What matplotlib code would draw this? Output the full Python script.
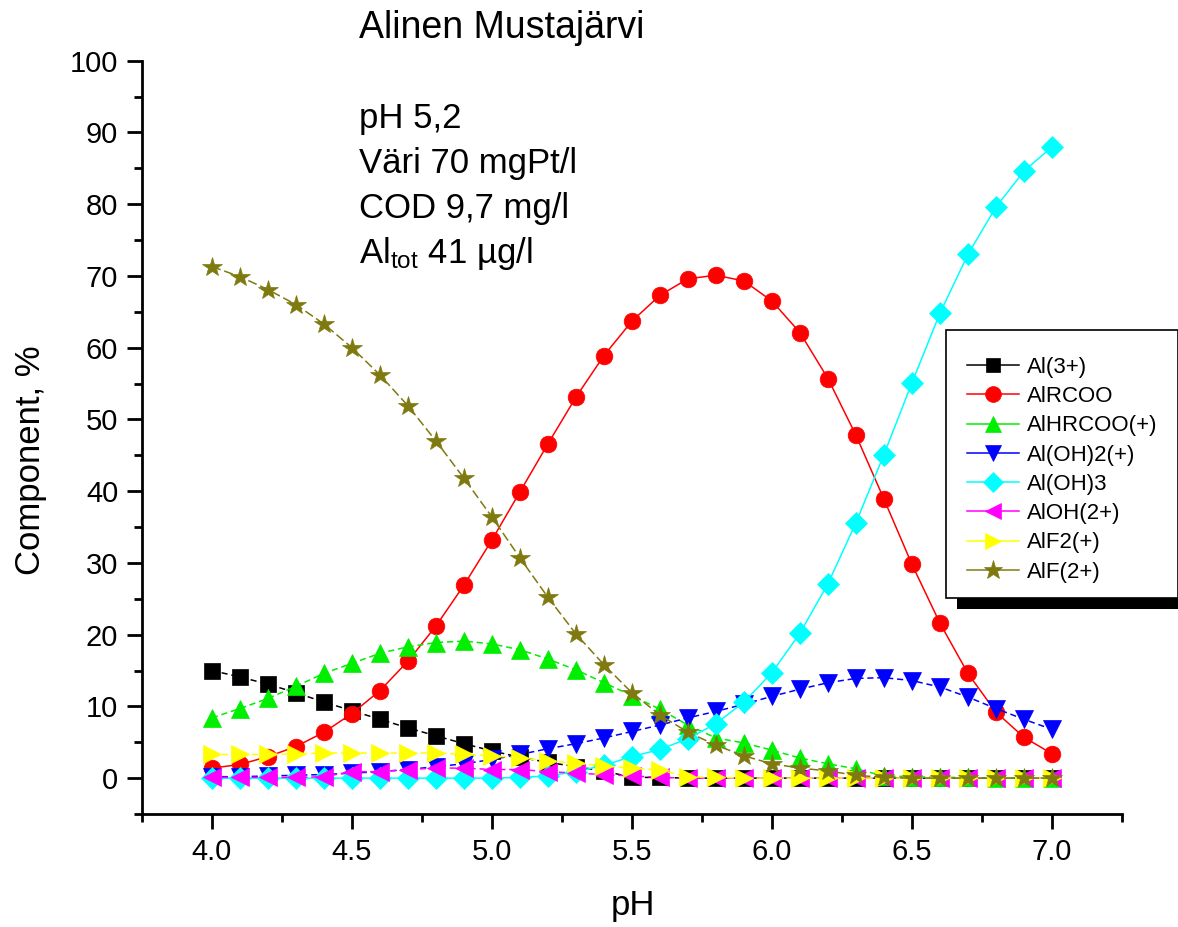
import matplotlib
matplotlib.use("Agg")
import matplotlib.pyplot as plt
from matplotlib.lines import Line2D
from matplotlib.patches import Rectangle
from matplotlib.ticker import FixedLocator, MultipleLocator

plt.rcParams["font.family"] = ["Liberation Sans", "DejaVu Sans"]
plt.rcParams["mathtext.default"] = "regular"

# pH grid of the speciation run
ph = [4.0, 4.1, 4.2, 4.3, 4.4, 4.5, 4.6, 4.7, 4.8, 4.9,
      5.0, 5.1, 5.2, 5.3, 5.4, 5.5, 5.6, 5.7, 5.8, 5.9,
      6.0, 6.1, 6.2, 6.3, 6.4, 6.5, 6.6, 6.7, 6.8, 6.9, 7.0]

# component shares, %
al3 = [15.0, 14.1, 13.1, 11.9, 10.6, 9.4, 8.2, 7.0, 5.9, 4.8,
       3.8, 2.9, 2.2, 1.6, 1.0, 0.1, 0.1, 0.0, 0.0, 0.0,
       0.0, 0.0, 0.0, 0.0, 0.0, 0.0, 0.0, 0.0, 0.0, 0.0, 0.0]
alrcoo = [1.4, 1.9, 3.0, 4.4, 6.4, 9.0, 12.2, 16.3, 21.2, 26.9,
          33.2, 39.9, 46.6, 53.1, 58.9, 63.7, 67.3, 69.6, 70.1, 69.3,
          66.5, 62.1, 55.7, 47.8, 38.9, 29.8, 21.6, 14.6, 9.2, 5.7, 3.4]
alhrcoo = [8.4, 9.7, 11.1, 12.8, 14.6, 16.0, 17.4, 18.3, 18.9, 19.1,
           18.7, 17.9, 16.6, 15.1, 13.3, 11.5, 9.6, 7.4, 5.6, 4.9,
           3.9, 2.8, 2.0, 1.3, 0.3, 0.2, 0.1, 0.1, 0.0, 0.0, 0.0]
aloh2 = [0.2, 0.2, 0.3, 0.4, 0.5, 0.7, 0.9, 1.2, 1.6, 2.0,
         2.6, 3.3, 4.1, 4.8, 5.6, 6.5, 7.4, 8.4, 9.3, 10.3,
         11.4, 12.4, 13.3, 13.9, 14.0, 13.6, 12.7, 11.3, 9.7, 8.2, 6.8]
aloh3 = [0.0, 0.0, 0.0, 0.0, 0.0, 0.0, 0.0, 0.0, 0.0, 0.0,
         0.0, 0.1, 0.3, 0.9, 1.8, 3.0, 4.0, 5.5, 7.6, 10.6,
         14.7, 20.2, 27.1, 35.6, 45.1, 55.1, 64.8, 73.0, 79.6, 84.6, 88.0]
aloh = [0.1, 0.1, 0.1, 0.1, 0.2, 0.9, 0.9, 1.2, 1.4, 1.4,
        1.2, 1.2, 0.9, 0.7, 0.5, 0.3, 0.1, 0.0, 0.0, 0.0,
        0.0, 0.0, 0.0, 0.0, 0.0, 0.0, 0.0, 0.0, 0.0, 0.0, 0.0]
alf2 = [3.3, 3.3, 3.3, 3.4, 3.5, 3.5, 3.5, 3.5, 3.5, 3.3,
        3.1, 2.8, 2.4, 2.1, 1.7, 1.4, 1.1, 0.2, 0.1, 0.0,
        0.0, 0.0, 0.0, 0.0, 0.0, 0.0, 0.0, 0.0, 0.0, 0.0, 0.0]
alf = [71.3, 69.9, 68.1, 66.0, 63.3, 60.0, 56.2, 51.9, 47.0, 41.8,
       36.4, 30.7, 25.2, 20.1, 15.8, 11.9, 8.8, 6.4, 4.6, 3.1,
       2.0, 1.4, 1.0, 0.4, 0.1, 0.0, 0.0, 0.0, 0.0, 0.0, 0.0]

labels = ["Al(3+)", "AlRCOO", "AlHRCOO(+)", "Al(OH)2(+)",
          "Al(OH)3", "AlOH(2+)", "AlF2(+)", "AlF(2+)"]
colors = ["black", "#ff0000", "#00ee00", "#0000ff",
          "#00ffff", "#ff00ff", "#ffff00", "#7f7a10"]
markers = ["s", "o", "^", "v", "D", "<", ">", "*"]
msizes = [11, 12, 12.5, 12.5, 11, 12.5, 12.5, 15]
dashes = [(4, 2.5), None, (4, 2.5), (4, 2.5), None, (4, 2.5), (4, 2.5), (6, 2.5)]

series = [al3, alrcoo, alhrcoo, aloh2, aloh3, aloh, alf2, alf]

fig = plt.figure(figsize=(11.78, 9.27), dpi=100)
ax = fig.add_axes([0.1205, 0.1219, 0.8319, 0.8126])

handles = []
for vals, lab, c, m, ms, d in zip(series, labels, colors, markers, msizes, dashes):
    line, = ax.plot(ph, vals, color=c, lw=1.1, marker=m, ms=ms,
                    mec=c, mew=0.5, clip_on=False)
    if d is not None:
        line.set_dashes(d)
    handles.append(Line2D([], [], color=c, lw=1.1, marker=m, ms=ms * 0.95,
                          mec=c, mew=0.5))

ax.set_xlim(3.75, 7.25)
ax.set_ylim(-5, 100)
ax.spines["top"].set_visible(False)
ax.spines["right"].set_visible(False)
for s in ("left", "bottom"):
    ax.spines[s].set_linewidth(2.0)

ax.xaxis.set_major_locator(FixedLocator([4.0, 4.5, 5.0, 5.5, 6.0, 6.5, 7.0]))
ax.xaxis.set_minor_locator(MultipleLocator(0.25))
ax.yaxis.set_major_locator(MultipleLocator(10))
ax.yaxis.set_minor_locator(MultipleLocator(5))
ax.xaxis.set_major_formatter(lambda v, p: f"{v:.1f}")
ax.tick_params(which="major", length=11, width=2.0, labelsize=21, pad=6)
ax.tick_params(which="minor", length=6, width=2.0)

ax.set_ylabel("Component, %", fontsize=25)
ax.yaxis.set_label_coords(-0.097, 0.47)
ax.set_xlabel("pH", fontsize=25)
ax.xaxis.set_label_coords(0.501, -0.099)

# sample info
fig.text(359 / 1178, 1 - 38 / 927, "Alinen Mustajärvi", fontsize=27, va="baseline")
info = ["pH 5,2", "Väri 70 mgPt/l", "COD 9,7 mg/l", "Al$_{tot}$ 41 µg/l"]
for i, t in enumerate(info):
    fig.text(359 / 1178, 1 - (128 + 45 * i) / 927, t, fontsize=25, va="baseline")

# legend box with Origin-style drop shadow
W, H = 1178, 927
fig.patches.append(Rectangle((957 / W, 1 - 609 / H), 240 / W, 268 / H,
                             transform=fig.transFigure, fc="black", ec="none", zorder=5))
fig.patches.append(Rectangle((946 / W, 1 - 598 / H), 232 / W, 268 / H,
                             transform=fig.transFigure, fc="white", ec="black",
                             lw=1.2, zorder=6))
leg = fig.legend(handles, labels, loc="upper left",
                 bbox_to_anchor=(967 / W, 1 - 357 / H), frameon=False,
                 fontsize=16, handlelength=2.35, handletextpad=0.35,
                 labelspacing=0.37, borderpad=0, borderaxespad=0)
leg.set_zorder(7)

fig.savefig("out.png", dpi=100)
